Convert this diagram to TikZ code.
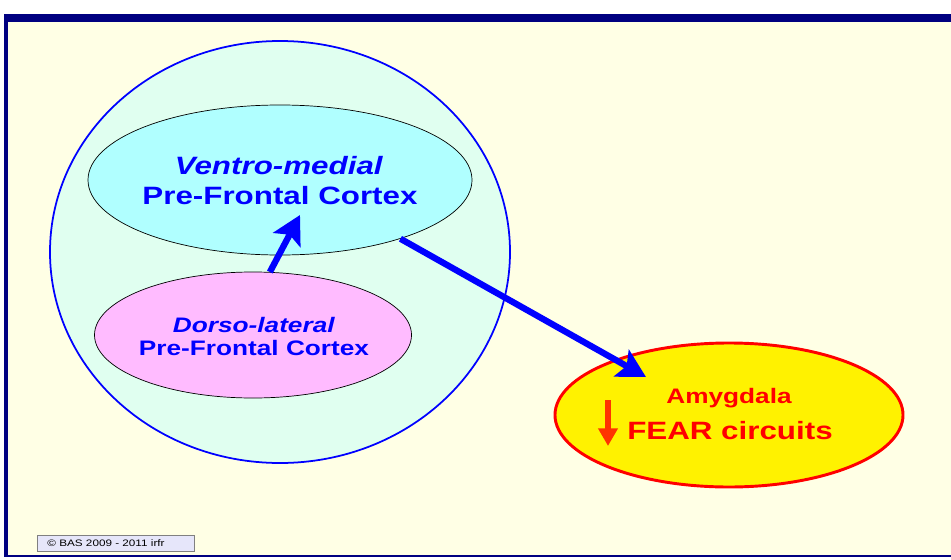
\documentclass[tikz,border=0pt]{standalone}
\usepackage{fontspec}
\newfontfamily\slidefont[FakeStretch=1.25]{Liberation Sans}
\usetikzlibrary{shapes.geometric,arrows.meta}
\definecolor{framenavy}{HTML}{000080}
\definecolor{slidecream}{HTML}{FFFFE5}
\definecolor{pfcmint}{HTML}{E0FFF0}
\definecolor{vmcyan}{HTML}{B0FFFF}
\definecolor{dlpink}{HTML}{FFBBFF}
\definecolor{fearorange}{HTML}{FF3300}
\definecolor{notelavender}{HTML}{E6E6FA}
\tikzset{
    region/.style={ellipse, draw, inner sep=0pt, line width=0.6pt},
    headtext/.style={anchor=base, font=\slidefont\bfseries\fontsize{#1}{#1}\selectfont},
    bigarrow/.style={draw=blue, line width=5.4pt, -{Stealth[length=24pt, width=26pt, inset=5pt]}},
}

\begin{document}
\begin{tikzpicture}[x=0.03cm, y=-0.03cm]
    % slide background and frame
    \fill[white] (0,0) rectangle (951,559);
    \fill[framenavy] (4,14) rectangle (951,557);
    \fill[slidecream] (8,22) rectangle (951,555);
    \useasboundingbox (0,0) rectangle (951,559);

    % prefrontal cortex and its two parts
    \node[region, draw=blue, line width=1.5pt, fill=pfcmint, minimum width=13.8cm, minimum height=12.66cm] (pfc) at (280,252) {};
    \node[region, fill=vmcyan, minimum width=11.52cm, minimum height=4.5cm] (ventro) at (280,180) {};
    \node[region, fill=dlpink, minimum width=9.51cm, minimum height=3.78cm] (dorso) at (253,335) {};
    \node[headtext=21.4, text=blue] (vmname) at (279,174) {\textit{Ventro-medial}};
    \node[headtext=21.4, text=blue] (vmpfc) at (280,204) {Pre-Frontal Cortex};
    \node[headtext=17.9, text=blue] (dlname) at (254,332) {\textit{Dorso-lateral}};
    \node[headtext=17.9, text=blue] (dlpfc) at (254,355) {Pre-Frontal Cortex};

    % amygdala
    \node[region, draw=red, line width=2.5pt, fill=yellow, minimum width=10.44cm, minimum height=4.32cm] (amygdala) at (729,415) {};
    \node[headtext=17.9, text=red] (amyname) at (729,403) {Amygdala};
    \node[headtext=21.4, text=red] (fear) at (730,439) {FEAR circuits};

    % connections
    \coordinate (vmtip) at (300,215);
    \coordinate (amytip) at (646,377);
    \draw[bigarrow] (dorso.75) -- (vmtip);
    \draw[bigarrow] (ventro.-26) -- (amytip);
    % fear goes down
    \coordinate (downtop) at (608,400);
    \coordinate (downbot) at (608,446);
    \draw[draw=fearorange, line width=5.5pt, -{Triangle[length=15pt, width=16pt]}] (downtop) -- (downbot);

    % copyright note
    \node[draw=gray, fill=notelavender, line width=0.5pt, minimum width=4.71cm, minimum height=0.48cm, inner sep=0pt, font=\slidefont\fontsize{8}{9}\selectfont] (note) at (115.5,543) {\hspace*{-0.57cm}\copyright{} BAS 2009 - 2011 irfr};
\end{tikzpicture}
\end{document}
